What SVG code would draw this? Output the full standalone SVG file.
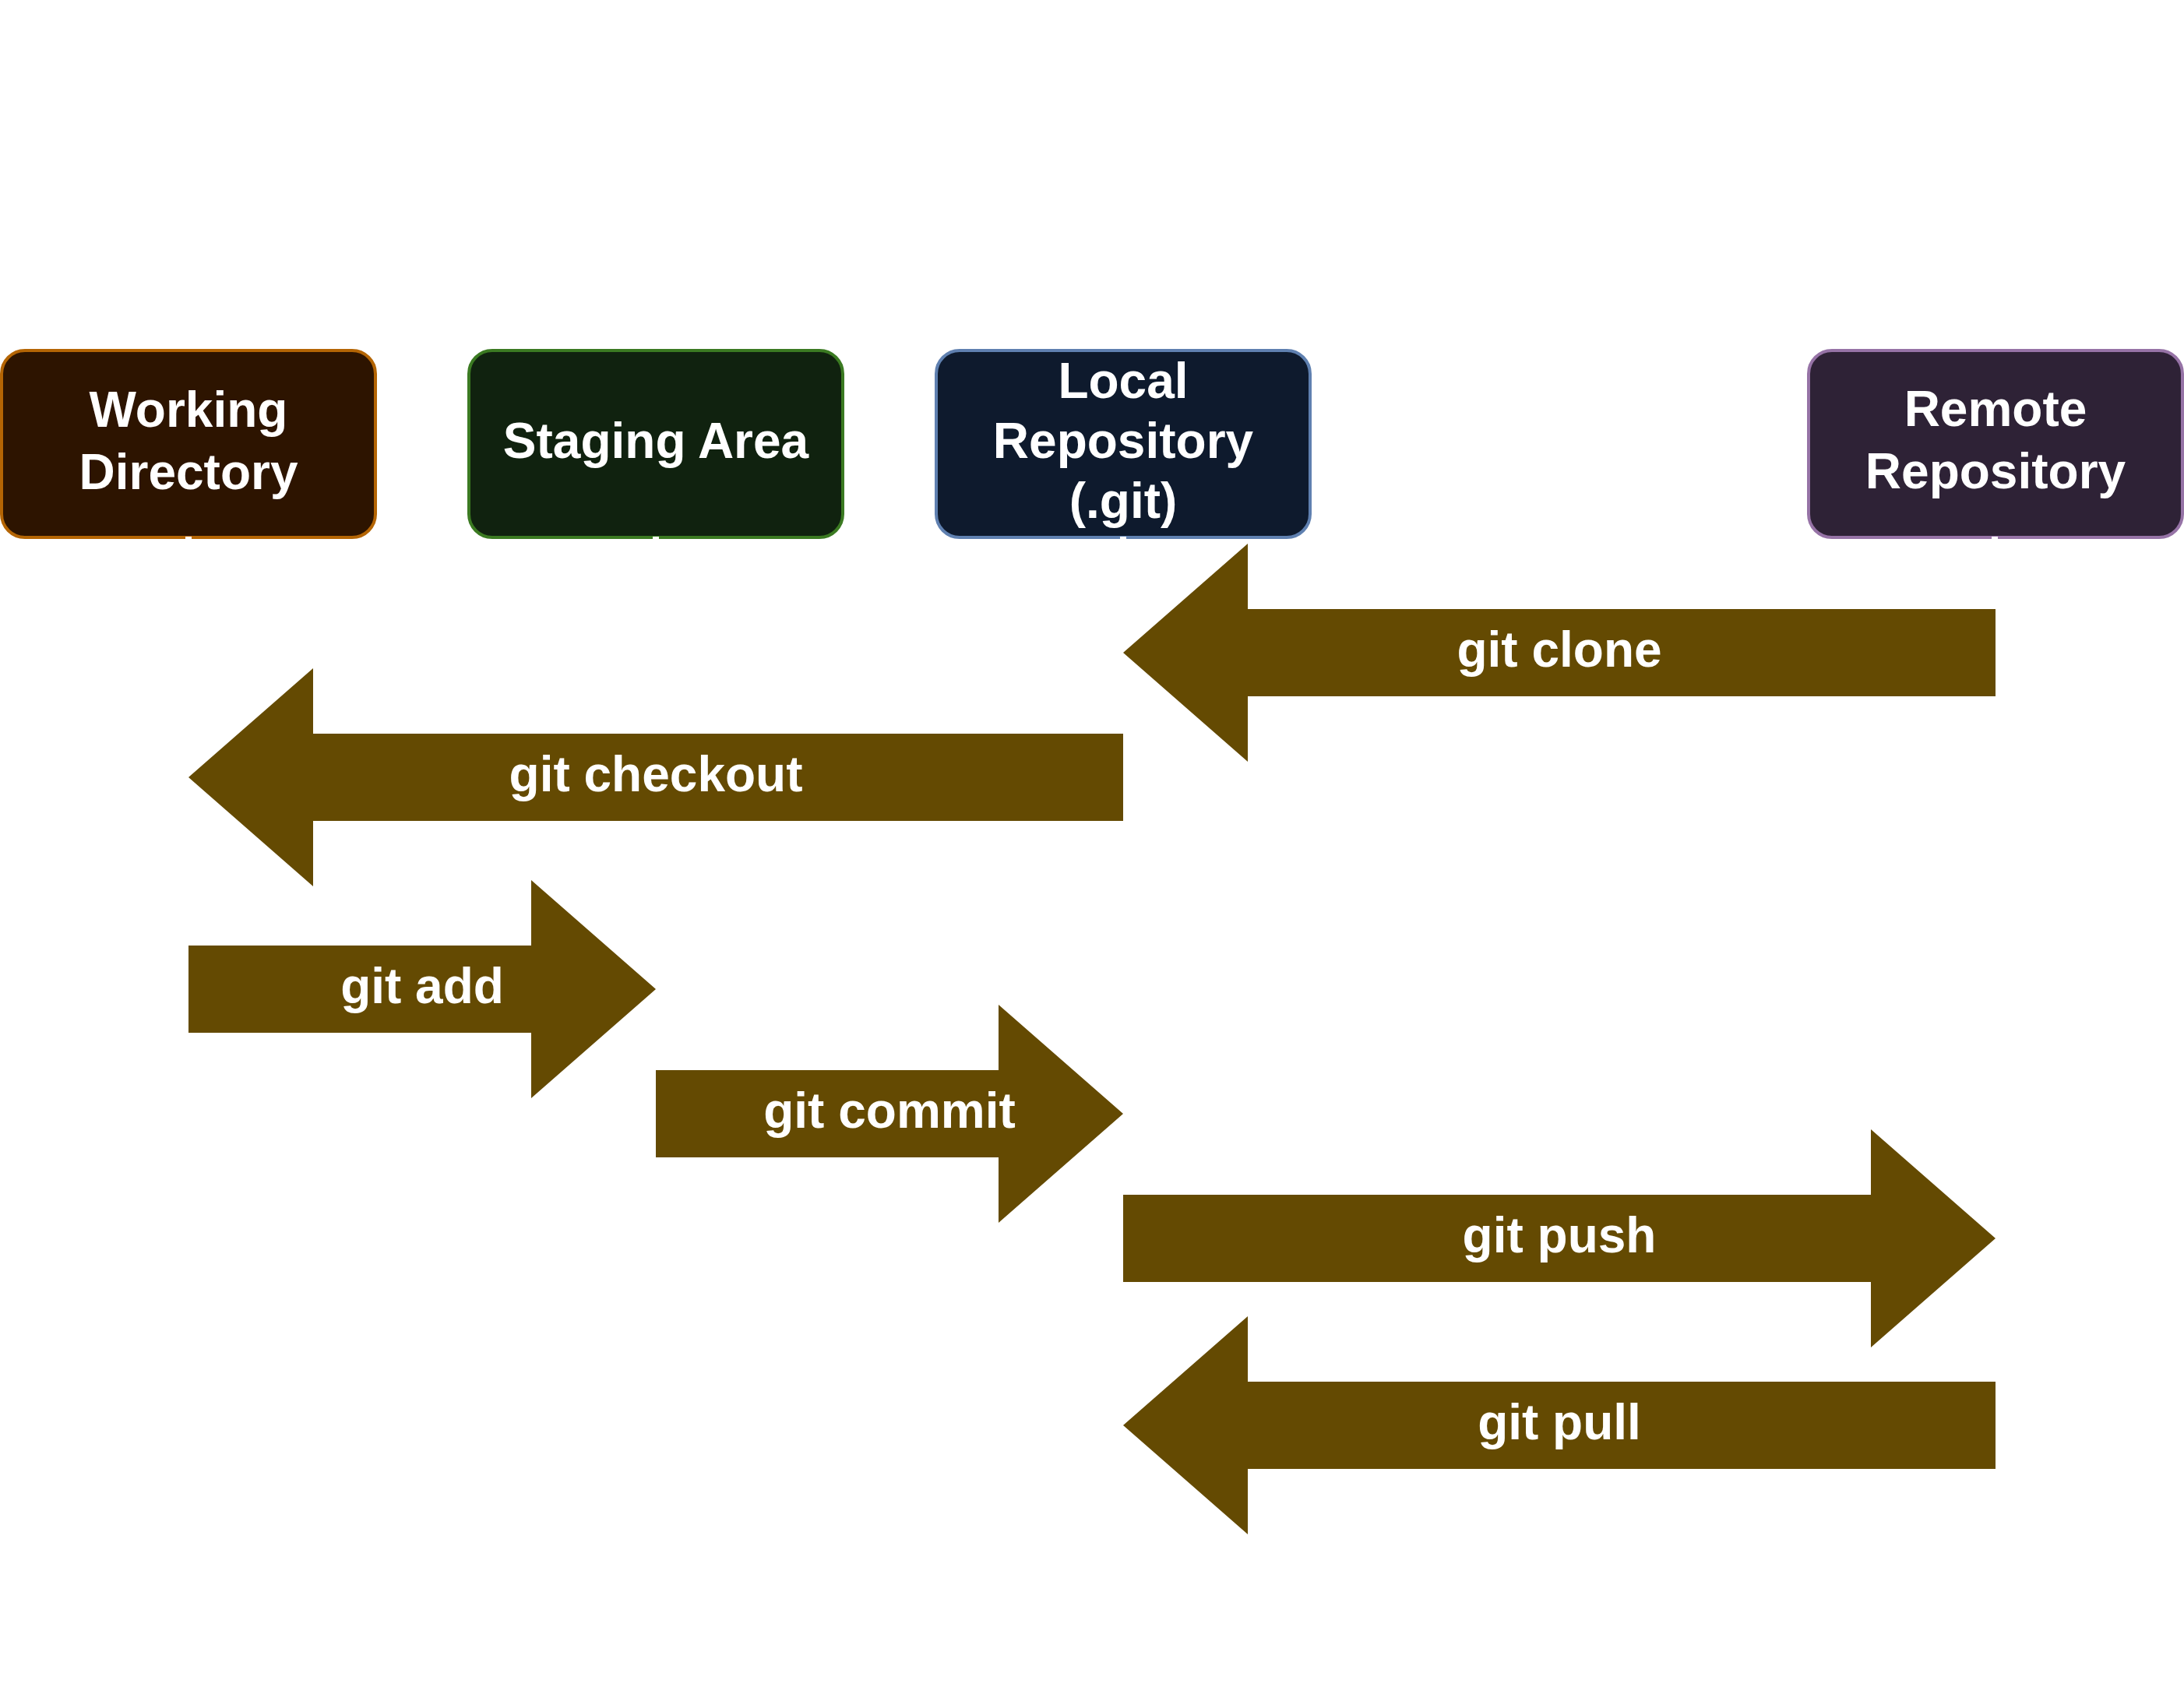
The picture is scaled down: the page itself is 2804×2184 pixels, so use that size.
<svg xmlns="http://www.w3.org/2000/svg" width="2804" height="2184" viewBox="0 0 2804 2184">
<style>
.box{stroke-width:4}
.lbl{font-family:"Liberation Sans",Arial,sans-serif;font-weight:bold;font-size:64px;fill:#ffffff;text-anchor:middle}
.arrow{fill:#644a02}
.tick{fill:#ffffff}
</style>
<rect width="2804" height="2184" fill="#ffffff"/>
<g id="node-working">
<rect class="box" x="2" y="450" width="480" height="240" rx="30" ry="30" fill="#2d1400" stroke="#b46504"/>
<rect class="tick" x="238" y="689" width="8" height="4"/>
<text class="lbl" x="242" y="548">Working</text>
<text class="lbl" x="242" y="628">Directory</text>
</g>
<g id="node-staging">
<rect class="box" x="602" y="450" width="480" height="240" rx="30" ry="30" fill="#10220f" stroke="#3b7a22"/>
<rect class="tick" x="838" y="689" width="8" height="4"/>
<text class="lbl" x="842" y="588">Staging Area</text>
</g>
<g id="node-local">
<rect class="box" x="1202" y="450" width="480" height="240" rx="30" ry="30" fill="#0e1a2d" stroke="#5f80b0"/>
<rect class="tick" x="1438" y="689" width="8" height="4"/>
<text class="lbl" x="1442" y="511">Local</text>
<text class="lbl" x="1442" y="588">Repository</text>
<text class="lbl" x="1442" y="665">(.git)</text>
</g>
<g id="node-remote">
<rect class="box" x="2322" y="450" width="480" height="240" rx="30" ry="30" fill="#2e2236" stroke="#9673a6"/>
<rect class="tick" x="2557" y="689" width="8" height="4"/>
<text class="lbl" x="2562" y="547">Remote</text>
<text class="lbl" x="2562" y="627">Repository</text>
</g>
<g id="connectors">
<g id="arrow-clone">
<polygon class="arrow" points="1442,838 1602,698 1602,782 2562,782 2562,894 1602,894 1602,978"/>
<text class="lbl" x="2002" y="856">git clone</text>
</g>
<g id="arrow-checkout">
<polygon class="arrow" points="242,998 402,858 402,942 1442,942 1442,1054 402,1054 402,1138"/>
<text class="lbl" x="842" y="1016">git checkout</text>
</g>
<g id="arrow-add">
<polygon class="arrow" points="842,1270 682,1130 682,1214 242,1214 242,1326 682,1326 682,1410"/>
<text class="lbl" x="542" y="1288">git add</text>
</g>
<g id="arrow-commit">
<polygon class="arrow" points="1442,1430 1282,1290 1282,1374 842,1374 842,1486 1282,1486 1282,1570"/>
<text class="lbl" x="1142" y="1448">git commit</text>
</g>
<g id="arrow-push">
<polygon class="arrow" points="2562,1590 2402,1450 2402,1534 1442,1534 1442,1646 2402,1646 2402,1730"/>
<text class="lbl" x="2002" y="1608">git push</text>
</g>
<g id="arrow-pull">
<polygon class="arrow" points="1442,1830 1602,1690 1602,1774 2562,1774 2562,1886 1602,1886 1602,1970"/>
<text class="lbl" x="2002" y="1848">git pull</text>
</g>
</g>
</svg>
